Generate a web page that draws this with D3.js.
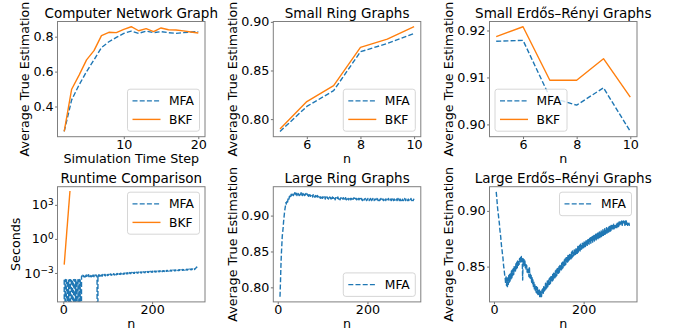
<!DOCTYPE html>
<html>
<head>
<meta charset="utf-8">
<script src="https://cdn.jsdelivr.net/npm/d3@7"></script>
<style>
  body { margin: 0; background: #fff; }
  svg text { font-family: "DejaVu Sans", sans-serif; fill: #000; }
</style>
</head>
<body>
<svg id="fig" width="678" height="335"></svg>
<script>
// ---------- data ----------
// computer network graph: time steps 2..20
var netSteps = [2,3,4,5,6,7,8,9,10,11,12,13,14,15,16,17,18,19,20];
var netMFA = [0.257,0.438,0.524,0.600,0.667,0.737,0.771,0.796,0.819,0.832,0.819,0.832,0.823,0.829,0.823,0.819,0.823,0.827,0.829];
var netBKF = [0.257,0.499,0.580,0.667,0.720,0.806,0.825,0.823,0.842,0.857,0.834,0.846,0.829,0.850,0.840,0.838,0.833,0.827,0.821];

// small graphs: n = 5..10
var smallN = [5,6,7,8,9,10];
var smallRingMFA = [0.7873,0.8130,0.8293,0.8693,0.8778,0.8881];
var smallRingBKF = [0.7898,0.8180,0.8344,0.8738,0.8823,0.8950];
var smallErMFA = [0.9177,0.9179,0.9058,0.9041,0.9078,0.8985];
var smallErBKF = [0.9187,0.9208,0.9094,0.9094,0.9140,0.9058];

// runtime (seconds), MFA for n = 2..304, BKF for n = 2..15 (0 = below timer resolution)
var runtimeMfaStart = 2;
var runtimeMFA = [
  2.5e-4,0,2.5e-4,2.6e-4,0,2.4e-4,2.5e-4,2.6e-4,0,2.5e-4,
  2.4e-4,0,2.6e-4,2.5e-4,2.5e-4,0,2.4e-4,2.6e-4,2.5e-4,2.5e-4,
  0,2.6e-4,2.4e-4,2.5e-4,2.6e-4,0,2.5e-4,2.4e-4,0,2.6e-4,
  2.5e-4,2.5e-4,0,2.4e-4,2.6e-4,0,2.5e-4,2.5e-4,0,4.8e-4,
  5.6e-4,4.4e-4,6.4e-4,5.0e-4,5.8e-4,4.3e-4,6.6e-4,5.2e-4,4.6e-4,6.2e-4,
  5.1e-4,6.8e-4,4.5e-4,5.7e-4,5.3e-4,7.0e-4,4.7e-4,5.5e-4,6.5e-4,4.9e-4,
  5.9e-4,4.6e-4,6.9e-4,5.4e-4,5.0e-4,6.6e-4,5.6e-4,4.7e-4,6.4e-4,5.7e-4,
  5.0e-4,6.8e-4,5.5e-4,6.2e-4,5.1e-4,0,6.4e-4,5.4e-4,7.0e-4,5.2e-4,
  6.3e-4,5.6e-4,7.2e-4,5.3e-4,6.6e-4,6.0e-4,5.4e-4,7.4e-4,6.1e-4,5.6e-4,
  6.9e-4,6.0e-4,7.6e-4,5.7e-4,6.7e-4,7.9e-4,6.1e-4,7.1e-4,5.8e-4,7.6e-4,
  6.5e-4,8.0e-4,6.2e-4,7.3e-4,8.3e-4,6.5e-4,7.6e-4,6.3e-4,8.2e-4,7.1e-4,
  6.6e-4,8.5e-4,7.0e-4,7.9e-4,6.7e-4,8.8e-4,7.2e-4,8.3e-4,6.9e-4,8.9e-4,
  7.5e-4,8.5e-4,7.1e-4,9.1e-4,7.7e-4,8.7e-4,7.4e-4,9.5e-4,7.9e-4,8.9e-4,
  7.7e-4,9.7e-4,8.2e-4,9.2e-4,7.8e-4,1.0e-3,8.4e-4,9.4e-4,8.1e-4,1.02e-3,
  8.7e-4,9.8e-4,8.3e-4,1.04e-3,8.9e-4,1.0e-3,8.6e-4,1.08e-3,9.1e-4,1.02e-3,
  8.8e-4,1.1e-3,9.3e-4,1.05e-3,9.0e-4,1.13e-3,9.6e-4,1.07e-3,9.2e-4,1.15e-3,
  9.8e-4,1.1e-3,9.5e-4,1.17e-3,1.0e-3,1.12e-3,9.7e-4,1.2e-3,1.02e-3,1.14e-3,
  9.9e-4,1.22e-3,1.04e-3,1.17e-3,1.01e-3,1.25e-3,1.07e-3,1.19e-3,1.03e-3,1.27e-3,
  1.09e-3,1.22e-3,1.06e-3,1.3e-3,1.11e-3,1.25e-3,1.08e-3,1.33e-3,1.14e-3,1.28e-3,
  1.1e-3,1.36e-3,1.16e-3,1.3e-3,1.13e-3,1.39e-3,1.19e-3,1.33e-3,1.15e-3,1.42e-3,
  1.22e-3,1.36e-3,1.18e-3,1.45e-3,1.25e-3,1.39e-3,1.21e-3,1.48e-3,1.28e-3,1.42e-3,
  1.24e-3,1.51e-3,1.31e-3,1.45e-3,1.27e-3,1.54e-3,1.34e-3,1.48e-3,1.3e-3,1.57e-3,
  1.37e-3,1.51e-3,1.33e-3,1.6e-3,1.4e-3,1.54e-3,1.36e-3,1.64e-3,1.43e-3,1.58e-3,
  1.39e-3,1.68e-3,1.46e-3,1.62e-3,1.42e-3,1.72e-3,1.5e-3,1.65e-3,1.45e-3,1.75e-3,
  1.53e-3,1.69e-3,1.49e-3,1.79e-3,1.56e-3,1.72e-3,1.52e-3,1.83e-3,1.6e-3,1.76e-3,
  1.55e-3,1.87e-3,1.64e-3,1.8e-3,1.59e-3,1.91e-3,1.67e-3,1.84e-3,1.62e-3,1.95e-3,
  1.71e-3,1.88e-3,1.66e-3,1.99e-3,1.75e-3,1.92e-3,1.7e-3,2.03e-3,1.79e-3,1.96e-3,
  1.74e-3,2.08e-3,1.83e-3,2.0e-3,1.78e-3,2.12e-3,1.87e-3,2.04e-3,1.82e-3,2.17e-3,
  1.92e-3,2.1e-3,1.86e-3,2.22e-3,1.97e-3,2.14e-3,1.91e-3,2.27e-3,2.02e-3,2.2e-3,
  1.96e-3,2.32e-3,2.08e-3,2.25e-3,2.03e-3,2.45e-3,2.6e-3,2.9e-3,3.3e-3,3.0e-3,
  2.7e-3,3.1e-3,2.8e-3
];
var runtimeBkfN = [2,3,4,5,6,7,8,9,10,11,12,13,14,15];
var runtimeBKF = [5.4e-3,1.6e-2,5.5e-2,0.16,0.55,1.6,5.6,16,55,165,540,1650,5400,16500];
var runtimeYDomain = [Math.pow(10, -5.55), Math.pow(10, 4.6)];

// large graphs: n = 5..304
var largeStart = 5;
var largeRingMFA = [
  .787,.806,.829,.846,.858,.871,.877,.883,.892,.898,
  .904,.909,.913,.918,.916,.920,.922,.919,.924,.925,
  .923,.927,.926,.929,.927,.930,.928,.931,.929,.930,
  .928,.931,.929,.932,.930,.933,.929,.931,.928,.930,
  .931,.929,.930,.928,.931,.929,.930,.932,.929,.930,
  .928,.931,.930,.929,.931,.928,.930,.929,.931,.928,
  .929,.930,.928,.929,.927,.930,.928,.929,.927,.928,
  .929,.927,.928,.926,.929,.927,.928,.926,.927,.928,
  .926,.927,.925,.928,.926,.927,.925,.926,.927,.925,
  .926,.924,.927,.925,.926,.924,.926,.925,.924,.926,
  .925,.923,.926,.924,.925,.926,.924,.925,.923,.925,
  .924,.926,.924,.925,.923,.925,.924,.926,.924,.925,
  .923,.925,.924,.922,.925,.924,.923,.925,.924,.926,
  .924,.923,.925,.924,.922,.924,.925,.923,.924,.925,
  .923,.925,.924,.922,.924,.923,.925,.924,.922,.924,
  .925,.923,.924,.922,.923,.925,.923,.924,.922,.924,
  .923,.924,.922,.924,.923,.925,.923,.922,.924,.923,
  .924,.922,.923,.925,.923,.924,.922,.923,.924,.922,
  .923,.924,.922,.923,.921,.923,.924,.922,.923,.922,
  .924,.922,.923,.921,.923,.922,.924,.922,.923,.921,
  .923,.922,.924,.922,.921,.923,.922,.924,.922,.923,
  .921,.923,.922,.923,.921,.922,.924,.922,.923,.921,
  .922,.923,.921,.923,.922,.924,.922,.921,.923,.922,
  .923,.921,.922,.924,.922,.923,.921,.923,.922,.921,
  .923,.922,.924,.922,.921,.923,.922,.923,.921,.922,
  .924,.922,.923,.921,.922,.923,.922,.921,.923,.922,
  .923,.921,.922,.924,.922,.923,.921,.922,.923,.921,
  .922,.923,.921,.923,.922,.921,.923,.922,.924,.922,
  .921,.923,.922,.923,.921,.922,.923,.921,.922,.923,
  .921,.922,.924,.922,.921,.923,.922,.921,.923,.922
];
var largeErMFA = [
  .917,.913,.908,.903,.899,.896,.892,.889,.884,.880,
  .877,.872,.868,.865,.861,.858,.853,.849,.846,.842,
  .840,.835,.842,.833,.839,.832,.840,.834,.842,.836,
  .843,.837,.844,.839,.846,.840,.847,.842,.848,.843,
  .850,.845,.851,.846,.853,.848,.854,.849,.855,.850,
  .856,.852,.857,.853,.858,.854,.859,.854,.857,.838,
  .857,.852,.857,.851,.855,.849,.853,.847,.851,.845,
  .849,.843,.847,.841,.850,.840,.844,.838,.842,.836,
  .840,.834,.838,.832,.836,.830,.835,.828,.833,.827,
  .832,.826,.831,.825,.830,.824,.829,.823,.828,.823,
  .827,.823,.829,.825,.831,.826,.832,.828,.833,.829,
  .835,.830,.835,.831,.837,.832,.837,.833,.839,.834,
  .840,.835,.841,.836,.842,.837,.843,.838,.844,.839,
  .845,.840,.846,.841,.847,.842,.848,.843,.849,.844,
  .850,.845,.851,.846,.852,.847,.853,.848,.854,.849,
  .855,.850,.856,.851,.857,.852,.858,.853,.859,.854,
  .860,.855,.860,.856,.861,.857,.862,.857,.863,.858,
  .864,.859,.864,.860,.865,.860,.866,.861,.866,.862,
  .867,.862,.868,.863,.868,.864,.869,.864,.870,.865,
  .870,.866,.871,.866,.872,.867,.872,.868,.873,.868,
  .873,.869,.874,.869,.874,.870,.875,.870,.875,.871,
  .876,.871,.876,.872,.877,.872,.877,.873,.878,.873,
  .878,.874,.879,.874,.879,.875,.880,.875,.880,.876,
  .881,.876,.881,.877,.882,.877,.882,.878,.883,.878,
  .883,.879,.884,.879,.884,.880,.885,.880,.885,.881,
  .885,.881,.886,.882,.886,.882,.887,.883,.887,.883,
  .887,.884,.888,.884,.888,.885,.888,.885,.889,.885,
  .889,.886,.889,.886,.890,.886,.890,.887,.890,.887,
  .891,.887,.890,.888,.891,.888,.890,.887,.891,.888,
  .891,.888,.890,.887,.890,.888,.889,.887,.888,.887
];

// ---------- layout ----------
var fig = d3.select("#fig");
var colX = [57.5, 273.3, 489.5], rowY = [21.5, 186.7];
var axW = 147.5, axH = 115.2;
var blue = "#1f77b4", orange = "#ff7f0e";
var dashes = "5,2.2";
var spineColor = "#7f7f7f";

function idx(start, arr) { return arr.map(function(d, i) { return start + i; }); }
function padExtent(e) { var p = (e[1] - e[0]) * 0.05; return [e[0] - p, e[1] + p]; }

var mfa = function(x, y) { return {label: "MFA", x: x, y: y, color: blue, dash: true}; };
var bkf = function(x, y) { return {label: "BKF", x: x, y: y, color: orange, dash: false}; };

var panels = [
  {title: "Computer Network Graph", xlabel: "Simulation Time Step", ylabel: "Average True Estimation",
   series: [mfa(netSteps, netMFA), bkf(netSteps, netBKF)],
   xticks: [10, 20], yticks: [0.4, 0.6, 0.8], yfmt: ".1f", legend: "lower right"},
  {title: "Small Ring Graphs", xlabel: "n", ylabel: "Average True Estimation",
   series: [mfa(smallN, smallRingMFA), bkf(smallN, smallRingBKF)],
   xticks: [6, 8, 10], yticks: [0.80, 0.85, 0.90], yfmt: ".2f", legend: "lower right"},
  {title: "Small Erdős–Rényi Graphs", xlabel: "n", ylabel: "Average True Estimation",
   series: [mfa(smallN, smallErMFA), bkf(smallN, smallErBKF)],
   xticks: [6, 8, 10], yticks: [0.90, 0.91, 0.92], yfmt: ".2f", legend: "lower left"},
  {title: "Runtime Comparison", xlabel: "n", ylabel: "Seconds", log: true, yDomain: runtimeYDomain,
   series: [mfa(idx(runtimeMfaStart, runtimeMFA), runtimeMFA), bkf(runtimeBkfN, runtimeBKF)],
   xticks: [0, 200], yticks: [1e-3, 1, 1e3], legend: "upper right"},
  {title: "Large Ring Graphs", xlabel: "n", ylabel: "Average True Estimation",
   series: [mfa(idx(largeStart, largeRingMFA), largeRingMFA)],
   xticks: [0, 200], yticks: [0.80, 0.85, 0.90], yfmt: ".2f", legend: "lower right"},
  {title: "Large Erdős–Rényi Graphs", xlabel: "n", ylabel: "Average True Estimation",
   series: [mfa(idx(largeStart, largeErMFA), largeErMFA)],
   xticks: [0, 200], yticks: [0.85, 0.90], yfmt: ".2f", legend: "upper right"}
];

panels.forEach(function(p, i) {
  var g = fig.append("g")
    .attr("transform", "translate(" + colX[i % 3] + "," + rowY[Math.floor(i / 3)] + ")");

  var allX = [], allY = [];
  p.series.forEach(function(s) { allX = allX.concat(s.x); allY = allY.concat(s.y); });

  var x = d3.scaleLinear().domain(padExtent(d3.extent(allX))).range([0, axW]);
  var y = p.log
    ? d3.scaleLog().domain(p.yDomain).range([axH, 0])
    : d3.scaleLinear().domain(padExtent(d3.extent(allY))).range([axH, 0]);

  g.append("clipPath").attr("id", "clip" + i)
    .append("rect").attr("width", axW).attr("height", axH);
  var plot = g.append("g").attr("clip-path", "url(#clip" + i + ")");

  p.series.forEach(function(s) {
    var line = d3.line()
      .x(function(d) { return x(d[0]); })
      // non-positive values on the log axis drop off the bottom, like matplotlib
      .y(function(d) { return (p.log && d[1] <= 0) ? axH + 400 : y(d[1]); });
    plot.append("path")
      .attr("d", line(s.x.map(function(v, j) { return [v, s.y[j]]; })))
      .attr("fill", "none")
      .attr("stroke", s.color)
      .attr("stroke-width", 1.4)
      .attr("stroke-linejoin", "round")
      .attr("stroke-dasharray", s.dash ? dashes : null);
  });

  // axes
  var xAxis = g.append("g").attr("transform", "translate(0," + axH + ")")
    .call(d3.axisBottom(x).tickValues(p.xticks).tickSize(2.4).tickPadding(1).tickFormat(d3.format("d")));
  var yAx = d3.axisLeft(y).tickValues(p.yticks).tickSize(2.4).tickPadding(1.5);
  if (!p.log) yAx.tickFormat(d3.format(p.yfmt)); else yAx.tickFormat(function() { return ""; });
  var yAxis = g.append("g").call(yAx);

  [xAxis, yAxis].forEach(function(a) {
    a.select(".domain").remove();
    a.selectAll(".tick line").attr("stroke", "#333").attr("stroke-width", 0.7);
    a.selectAll(".tick text").attr("font-size", 12.7).attr("font-family", "DejaVu Sans");
  });

  if (p.log) {
    yAxis.selectAll(".tick text").each(function(d) {
      var e = Math.round(Math.log10(d));
      var t = d3.select(this).text("10");
      t.append("tspan").attr("dy", "-0.5em").attr("font-size", "0.7em")
        .text(e < 0 ? "\u2212" + (-e) : String(e));
    });
  }

  // spines
  g.append("rect").attr("width", axW).attr("height", axH)
    .attr("fill", "none").attr("stroke", spineColor).attr("stroke-width", 1);

  // title and labels
  g.append("text").attr("x", axW / 2).attr("y", -4).attr("text-anchor", "middle")
    .attr("font-size", 13.5).text(p.title);
  g.append("text").attr("x", axW / 2).attr("y", axH + 26).attr("text-anchor", "middle")
    .attr("font-size", 12.7).text(p.xlabel);
  var bb = yAxis.node().getBBox();
  g.append("text").attr("transform", "translate(" + (bb.x - 4) + "," + (axH / 2) + ") rotate(-90)")
    .attr("text-anchor", "middle").attr("font-size", 12.7).text(p.ylabel);

  // legend
  var rows = p.series.length, lw = 72, lh = 23.5 + 18.5 * (rows - 1), gap = 5.5;
  var lx = p.legend.indexOf("left") >= 0 ? gap : axW - gap - lw;
  var ly = p.legend.indexOf("upper") >= 0 ? gap : axH - gap - lh;
  var lg = g.append("g").attr("transform", "translate(" + lx + "," + ly + ")");
  lg.append("rect").attr("width", lw).attr("height", lh).attr("rx", 2.5)
    .attr("fill", "#fff").attr("fill-opacity", 0.8).attr("stroke", "#cccccc").attr("stroke-width", 0.8);
  p.series.forEach(function(s, j) {
    var cy = 11.7 + 18.5 * j;
    lg.append("line").attr("x1", 5).attr("x2", 33).attr("y1", cy).attr("y2", cy)
      .attr("stroke", s.color).attr("stroke-width", 1.4)
      .attr("stroke-dasharray", s.dash ? dashes : null);
    lg.append("text").attr("x", 41.5).attr("y", cy + 4.4).attr("font-size", 12.3).text(s.label);
  });
});
</script>
</body>
</html>
